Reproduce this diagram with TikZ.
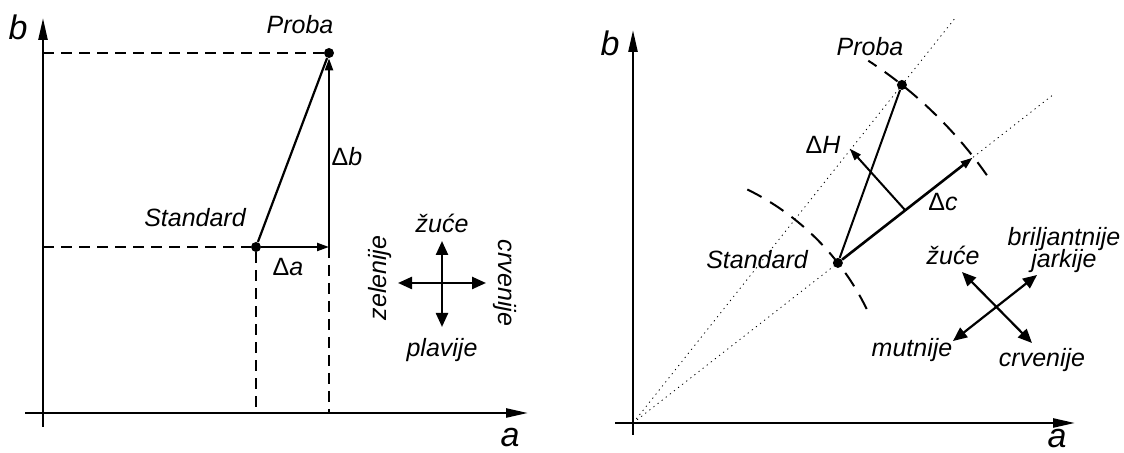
\documentclass[tikz,border=0pt]{standalone}
\usepackage{fontspec}
\setmainfont{Liberation Sans}
\usetikzlibrary{arrows.meta,calc}
\tikzstyle{axis} = [line width=1.2pt, -{Triangle[length=11pt,width=4.5pt]}]
\tikzstyle{vec} = [line width=1.1pt, -{Triangle[length=6pt,width=4pt]}]
\tikzstyle{hint} = [line width=1.2pt, {Triangle[length=7pt,width=6pt]}-{Triangle[length=7pt,width=6pt]}]
\tikzstyle{guide} = [line width=0.8pt, dash pattern=on 5.5pt off 3.5pt]
\tikzstyle{ray} = [line width=0.4pt, dash pattern=on 0.6pt off 2pt]
\tikzstyle{arcline} = [line width=1pt, dash pattern=on 8pt off 5pt]
\tikzstyle{dot} = [circle, fill=black, inner sep=0pt, minimum size=5pt]
\tikzstyle{lbl} = [font=\itshape\fontsize{12.5}{14}\selectfont, inner sep=1pt]
\tikzstyle{axislbl} = [font=\itshape\fontsize{17}{20}\selectfont, inner sep=1pt]

\begin{document}
\begin{tikzpicture}[x=0.5pt,y=0.5pt]
\useasboundingbox (0,0) rectangle (1124,453);
% left: a,b plane
\coordinate (aL0) at (25,40);
\coordinate (aL1) at (528,40);
\coordinate (bL0) at (43,26);
\coordinate (bL1) at (43,435);
\draw [axis] (aL0) -- (aL1);
\draw [axis] (bL0) -- (bL1);
\node (aL) [axislbl] at (510,15) {a};
\node (bL) [axislbl] at (18,426) {b};
\node (probaL) [dot] at (329,400) {};
\node (stdL) [dot] at (256,206) {};
\coordinate (cornerL) at (329,206);
\coordinate (ybL) at (43,400);
\coordinate (yaL) at (43,206);
\coordinate (xaL) at (256,40);
\coordinate (xbL) at (329,40);
\draw [guide] (ybL) -- (probaL);
\draw [guide] (yaL) -- (stdL);
\draw [guide] (stdL) -- (xaL);
\draw [guide] (cornerL) -- (xbL);
\draw [line width=1.1pt] (stdL) -- (probaL);
\draw [vec] (stdL) -- (cornerL);
\draw [vec] (cornerL) -- (probaL);
\node (probaLt) [lbl] at (300,428) {Proba};
\node (stdLt) [lbl] at (195,235) {Standard};
\node (daL) [lbl] at (288,186) {{\upshape Δ}a};
\node (dbL) [lbl] at (347,296) {{\upshape Δ}b};
\coordinate (leftL) at (398,170);
\coordinate (rightL) at (486,170);
\coordinate (upL) at (442,212);
\coordinate (downL) at (442,126);
\draw [hint] (leftL) -- (rightL);
\draw [hint] (downL) -- (upL);
\node (zuceL) [lbl] at (442,230) {žuće};
\node (plavL) [lbl] at (442,103) {plavije};
\node (zelL) [lbl, rotate=90] at (380,175) {zelenije};
\node (crvL) [lbl, rotate=-90] at (505,170) {crvenije};
% right: chroma and hue
\coordinate (oR) at (633,30);
\coordinate (aR0) at (615,30);
\coordinate (aR1) at (1075,30);
\coordinate (bR0) at (633,18);
\coordinate (bR1) at (633,423);
\draw [axis] (aR0) -- (aR1);
\draw [axis] (bR0) -- (bR1);
\node (aR) [axislbl] at (1057,14) {a};
\node (bR) [axislbl] at (610,410) {b};
\coordinate (rayP) at ($(oR)+(51.5:516)$);
\coordinate (rayS) at ($(oR)+(38:532)$);
\draw [ray] (oR) -- (rayP);
\draw [ray] (oR) -- (rayS);
\draw [arcline] ($(oR)+(26:260)$) arc[start angle=26, end angle=64, radius=130pt];
\draw [arcline] ($(oR)+(35:432)$) arc[start angle=35, end angle=57, radius=216pt];
\node (probaR) [dot] at ($(oR)+(51.5:432)$) {};
\node (stdR) [dot] at ($(oR)+(38:260)$) {};
\coordinate (dcR) at ($(oR)+(38:431)$);
\coordinate (midR) at ($(stdR)!0.5!(dcR)$);
\coordinate (dhR) at ($(midR)+(132:83)$);
\draw [line width=1pt] (stdR) -- (probaR);
\draw [vec, line width=1.3pt] (stdR) -- (dcR);
\draw [vec, line width=1pt] (midR) -- (dhR);
\node (probaRt) [lbl] at (870,406) {Proba};
\node (stdRt) [lbl] at (757,193) {Standard};
\node (dhRt) [lbl] at (823,308) {{\upshape Δ}H};
\node (dcRt) [lbl] at (943,251) {{\upshape Δ}c};
\coordinate (zuR) at (962,181);
\coordinate (crR) at (1032,110);
\coordinate (muR) at (953,112);
\coordinate (brR) at (1037,178);
\draw [hint, line width=1.1pt] (zuR) -- (crR);
\draw [hint, line width=1.1pt] (muR) -- (brR);
\node (zuceR) [lbl] at (953,198) {žuće};
\node (brilR) [lbl, align=center] at (1064,203) {briljantnije\\[-3pt]jarkije};
\node (mutR) [lbl] at (912,103) {mutnije};
\node (crvR) [lbl] at (1042,93) {crvenije};
\end{tikzpicture}
\end{document}
